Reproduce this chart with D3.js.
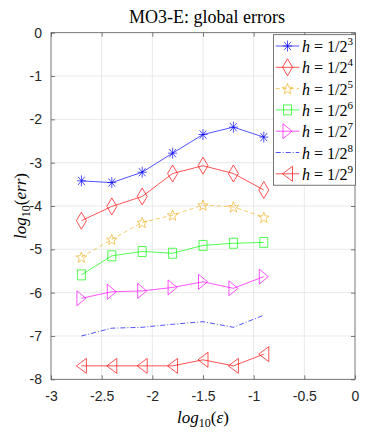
<!DOCTYPE html>
<html>
<head>
<meta charset="utf-8">
<script src="https://cdnjs.cloudflare.com/ajax/libs/d3/7.9.0/d3.min.js"></script>
<style>
  body { margin: 0; background: #fff; }
  svg { display: block; }
</style>
</head>
<body>
<script>
// log10(eps) values along x
const epsLog = [-2.7, -2.4, -2.1, -1.8, -1.5, -1.2, -0.9];

// log10(err) for each step size h = 1/2^k
const errH3 = [-3.42, -3.46, -3.22, -2.78, -2.35, -2.18, -2.41];
const errH4 = [-4.34, -4.01, -3.78, -3.25, -3.07, -3.25, -3.63];
const errH5 = [-5.18, -4.77, -4.38, -4.21, -3.98, -4.02, -4.26];
const errH6 = [-5.59, -5.15, -5.05, -5.09, -4.91, -4.86, -4.84];
const errH7 = [-6.13, -5.98, -5.96, -5.88, -5.75, -5.90, -5.63];
const errH8 = [-7.00, -6.82, -6.80, -6.73, -6.67, -6.80, -6.52];
const errH9 = [-7.69, -7.69, -7.69, -7.69, -7.55, -7.69, -7.42];

const exponents = [3, 4, 5, 6, 7, 8, 9];
const xTicks = [-3, -2.5, -2, -1.5, -1, -0.5, 0];
const yTicks = [0, -1, -2, -3, -4, -5, -6, -7, -8];

const series = [
  { exp: exponents[0], vals: errH3, color: "#0000ff", dash: null, marker: "asterisk" },
  { exp: exponents[1], vals: errH4, color: "#ff0000", dash: null, marker: "diamond" },
  { exp: exponents[2], vals: errH5, color: "#edb120", dash: "4,3", marker: "star" },
  { exp: exponents[3], vals: errH6, color: "#00ff00", dash: null, marker: "square" },
  { exp: exponents[4], vals: errH7, color: "#ff00ff", dash: null, marker: "right" },
  { exp: exponents[5], vals: errH8, color: "#0000ff", dash: "5,2,1,2", marker: null },
  { exp: exponents[6], vals: errH9, color: "#ff0000", dash: null, marker: "left" }
];

const W = 392, H = 436;
const mLeft = 51, mRight = 355, mTop = 32.7, mBottom = 379.3;

const x = d3.scaleLinear().domain([-3, 0]).range([mLeft, mRight]);
const y = d3.scaleLinear().domain([-8, 0]).range([mBottom, mTop]);

const svg = d3.select("body").append("svg")
  .attr("width", W).attr("height", H);

// grid
svg.append("g").selectAll("line").data(xTicks.slice(1, -1)).join("line")
  .attr("x1", d => x(d)).attr("x2", d => x(d))
  .attr("y1", mTop).attr("y2", mBottom)
  .attr("stroke", "#e3e3e3").attr("stroke-width", 0.8);
svg.append("g").selectAll("line").data(yTicks.slice(1, -1)).join("line")
  .attr("y1", d => y(d)).attr("y2", d => y(d))
  .attr("x1", mLeft).attr("x2", mRight)
  .attr("stroke", "#e3e3e3").attr("stroke-width", 0.8);

// axes (inward ticks on all sides, MATLAB style)
const tickSize = 4;
const fmt = d => String(d);
svg.append("g").attr("transform", `translate(0,${mBottom})`)
  .call(d3.axisBottom(x).tickValues(xTicks).tickSizeInner(-tickSize).tickSizeOuter(0)
    .tickPadding(12).tickFormat(fmt))
  .call(g => g.select(".domain").remove());
svg.append("g").attr("transform", `translate(0,${mTop})`)
  .call(d3.axisTop(x).tickValues(xTicks).tickSizeInner(-tickSize).tickSizeOuter(0).tickFormat(""))
  .call(g => g.select(".domain").remove());
svg.append("g").attr("transform", `translate(${mLeft},0)`)
  .call(d3.axisLeft(y).tickValues(yTicks).tickSizeInner(-tickSize).tickSizeOuter(0)
    .tickPadding(9).tickFormat(fmt))
  .call(g => g.select(".domain").remove());
svg.append("g").attr("transform", `translate(${mRight},0)`)
  .call(d3.axisRight(y).tickValues(yTicks).tickSizeInner(-tickSize).tickSizeOuter(0).tickFormat(""))
  .call(g => g.select(".domain").remove());

svg.selectAll(".tick line").attr("stroke", "#444").attr("stroke-width", 0.7);
svg.selectAll(".tick text")
  .attr("font-family", "Liberation Sans, Arial, sans-serif")
  .attr("font-size", 14).attr("fill", "#262626");

svg.append("rect")
  .attr("x", mLeft).attr("y", mTop)
  .attr("width", mRight - mLeft).attr("height", mBottom - mTop)
  .attr("fill", "none").attr("stroke", "#555").attr("stroke-width", 0.8);

// marker shapes
function markerPath(type, cx, cy) {
  const p = d3.path();
  if (type === "asterisk") {
    const rx = 4.5, ry = 5.5;
    p.moveTo(cx - rx, cy); p.lineTo(cx + rx, cy);
    p.moveTo(cx, cy - ry); p.lineTo(cx, cy + ry);
    p.moveTo(cx - rx * 0.75, cy - ry * 0.75); p.lineTo(cx + rx * 0.75, cy + ry * 0.75);
    p.moveTo(cx - rx * 0.75, cy + ry * 0.75); p.lineTo(cx + rx * 0.75, cy - ry * 0.75);
  } else if (type === "diamond") {
    const rx = 5, ry = 8.5;
    p.moveTo(cx, cy - ry); p.lineTo(cx + rx, cy); p.lineTo(cx, cy + ry); p.lineTo(cx - rx, cy); p.closePath();
  } else if (type === "square") {
    const rx = 4, ry = 5;
    p.rect(cx - rx, cy - ry, 2 * rx, 2 * ry);
  } else if (type === "star") {
    const ro = 5.5, ri = 2.3, sy = 1.05;
    for (let i = 0; i < 10; i++) {
      const r = i % 2 === 0 ? ro : ri;
      const a = -Math.PI / 2 + i * Math.PI / 5;
      const px = cx + r * Math.cos(a), py = cy + r * Math.sin(a) * sy + 0.6;
      if (i === 0) p.moveTo(px, py); else p.lineTo(px, py);
    }
    p.closePath();
  } else if (type === "right") {
    const rx = 4.5, ry = 7.5;
    p.moveTo(cx + rx, cy); p.lineTo(cx - rx, cy - ry); p.lineTo(cx - rx, cy + ry); p.closePath();
  } else if (type === "left") {
    const rx = 5, ry = 7.5;
    p.moveTo(cx - rx, cy); p.lineTo(cx + rx, cy - ry); p.lineTo(cx + rx, cy + ry); p.closePath();
  }
  return p.toString();
}

const line = d3.line().x(d => x(d[0])).y(d => y(d[1]));
const plot = svg.append("g");

series.forEach(s => {
  const pts = epsLog.map((e, i) => [e, s.vals[i]]);
  plot.append("path")
    .attr("d", line(pts))
    .attr("fill", "none").attr("stroke", s.color).attr("stroke-width", 0.8)
    .attr("stroke-opacity", 0.85)
    .attr("stroke-dasharray", s.dash);
  if (s.marker) {
    plot.append("g").selectAll("path").data(pts).join("path")
      .attr("d", d => markerPath(s.marker, x(d[0]), y(d[1])))
      .attr("fill", "none").attr("stroke", s.color).attr("stroke-width", 0.8)
      .attr("stroke-opacity", 0.85);
  }
});

// legend
const lg = svg.append("g");
lg.append("rect")
  .attr("x", 273.5).attr("y", 34.7).attr("width", 82).attr("height", 150.5)
  .attr("fill", "#fff").attr("stroke", "#555").attr("stroke-width", 0.8);

series.forEach((s, i) => {
  const cy = 46 + i * 21.3;
  lg.append("line")
    .attr("x1", 275.7).attr("x2", 299.3).attr("y1", cy).attr("y2", cy)
    .attr("stroke", s.color).attr("stroke-width", 0.8).attr("stroke-opacity", 0.85)
    .attr("stroke-dasharray", s.dash);
  if (s.marker) {
    lg.append("path").attr("d", markerPath(s.marker, 287.5, cy))
      .attr("fill", "none").attr("stroke", s.color).attr("stroke-width", 0.8)
      .attr("stroke-opacity", 0.85);
  }
  const t = lg.append("text")
    .attr("x", 302).attr("y", cy + 6)
    .attr("font-family", "Liberation Serif, Times New Roman, serif")
    .attr("font-size", 16).attr("fill", "#000");
  t.append("tspan").attr("font-style", "italic").text("h");
  t.append("tspan").text(" = 1/2");
  t.append("tspan").attr("font-size", 11).attr("dy", -7).text(s.exp);
});

// title
svg.append("text")
  .attr("x", 207).attr("y", 23)
  .attr("text-anchor", "middle")
  .attr("font-family", "Liberation Serif, Times New Roman, serif")
  .attr("font-size", 18).attr("fill", "#000")
  .text("MO3-E: global errors");

// x label
const xl = svg.append("text")
  .attr("x", 203).attr("y", 423)
  .attr("text-anchor", "middle")
  .attr("font-family", "Liberation Serif, Times New Roman, serif")
  .attr("font-size", 17).attr("fill", "#000");
xl.append("tspan").attr("font-style", "italic").text("log");
xl.append("tspan").attr("font-size", 12).attr("dy", 4).text("10");
xl.append("tspan").attr("dy", -4).text("(");
xl.append("tspan").attr("font-style", "italic").text("ε");
xl.append("tspan").text(")");

// y label
const yl = svg.append("text")
  .attr("transform", "translate(26,206) rotate(-90)")
  .attr("text-anchor", "middle")
  .attr("font-family", "Liberation Serif, Times New Roman, serif")
  .attr("font-size", 17).attr("fill", "#000");
yl.append("tspan").attr("font-style", "italic").text("log");
yl.append("tspan").attr("font-size", 12).attr("dy", 4).text("10");
yl.append("tspan").attr("dy", -4).text("(");
yl.append("tspan").attr("font-style", "italic").text("err");
yl.append("tspan").text(")");
</script>
</body>
</html>
